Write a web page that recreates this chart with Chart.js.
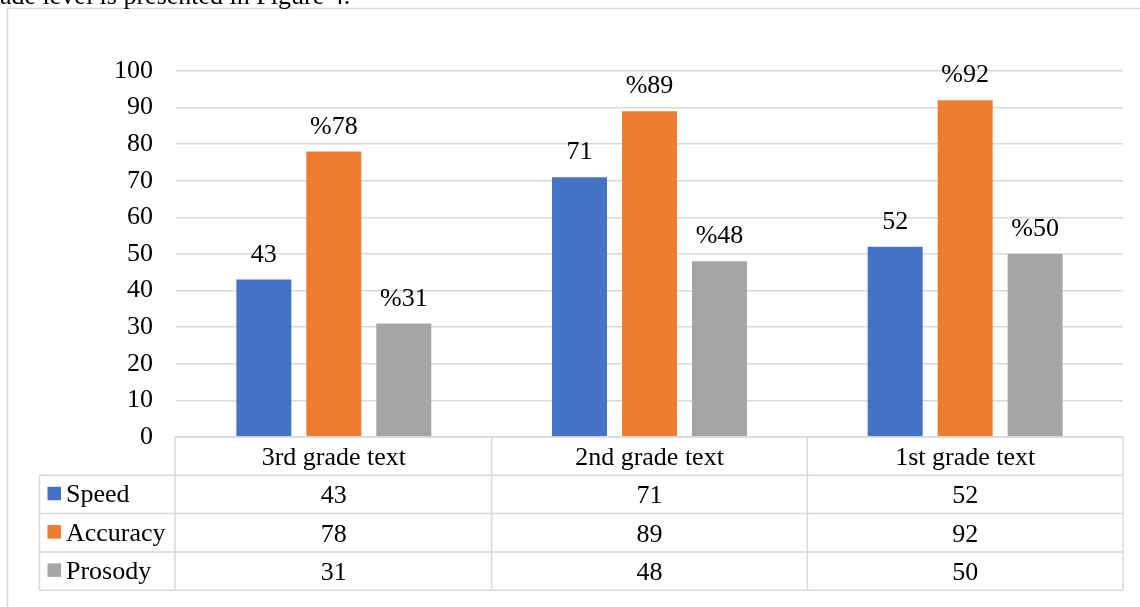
<!DOCTYPE html>
<html>
<head>
<meta charset="utf-8">
<script src="https://cdn.jsdelivr.net/npm/chart.js@4"></script>
<style>
html,body{margin:0;padding:0;background:#fff;overflow:hidden;}
#wrap{position:relative;width:1140px;height:607px;}
canvas{display:block;}
</style>
</head>
<body>
<div id="wrap"><canvas id="c" width="1140" height="607"></canvas></div>
<script>
const categories = ['3rd grade text', '2nd grade text', '1st grade text'];
const seriesNames = ['Speed', 'Accuracy', 'Prosody'];
const speed = [43, 71, 52];
const accuracy = [78, 89, 92];
const prosody = [31, 48, 50];
const labelPrefixes = ['', '%', '%'];
const yTicks = [0, 10, 20, 30, 40, 50, 60, 70, 80, 90, 100];
const captionText = 'ade level is presented in Figure 4.';

const colors = ['#4472C4', '#ED7D31', '#A5A5A5'];
const gridColor = '#D9D9D9';
const FONT = "'Liberation Serif', 'Times New Roman', serif";
const TS = 26;

function drawText(ctx, text, x, y, align) {
  ctx.font = TS + 'px ' + FONT;
  ctx.textAlign = align;
  ctx.textBaseline = 'alphabetic';
  ctx.fillText(text, x, y);
}

const tablePlugin = {
  id: 'tablePlugin',
  afterDraw(chart) {
    const ctx = chart.ctx;
    const xs = chart.scales.x;
    const ys = chart.scales.y;
    const area = chart.chartArea;
    ctx.save();
    ctx.fillStyle = '#000';

    // data labels
    chart.data.datasets.forEach((ds, di) => {
      const meta = chart.getDatasetMeta(di);
      meta.data.forEach((bar, i) => {
        drawText(ctx, labelPrefixes[di] + ds.data[i], bar.x, bar.y - 18, 'center');
      });
    });

    // table
    const colEdges = [];
    for (let i = 0; i <= categories.length; i++) {
      colEdges.push(i === 0 ? area.left - 1 : (i === categories.length ? area.right : (xs.getPixelForValue(i - 1) + xs.getPixelForValue(i)) / 2));
    }
    const top = ys.getPixelForValue(0);
    const rowH = 38.3;
    const rowYs = [];
    for (let r = 0; r <= seriesNames.length + 1; r++) rowYs.push(top + r * rowH);
    const leftX = 39.5;

    ctx.strokeStyle = gridColor;
    ctx.lineWidth = 1.5;
    ctx.beginPath();
    ctx.moveTo(colEdges[0], rowYs[0]); ctx.lineTo(colEdges[colEdges.length - 1], rowYs[0]);
    for (let r = 1; r < rowYs.length; r++) {
      ctx.moveTo(leftX, rowYs[r]); ctx.lineTo(colEdges[colEdges.length - 1], rowYs[r]);
    }
    colEdges.forEach(x => { ctx.moveTo(x, rowYs[0]); ctx.lineTo(x, rowYs[rowYs.length - 1]); });
    ctx.moveTo(leftX, rowYs[1]); ctx.lineTo(leftX, rowYs[rowYs.length - 1]);
    ctx.stroke();

    ctx.fillStyle = '#000';
    categories.forEach((c, i) => {
      drawText(ctx, c, xs.getPixelForValue(i), rowYs[0] + 28, 'center');
    });
    chart.data.datasets.forEach((ds, di) => {
      const ry = rowYs[di + 1];
      ctx.fillStyle = colors[di];
      ctx.fillRect(47.5, ry + 11.5, 13.5, 13.5);
      ctx.fillStyle = '#000';
      drawText(ctx, seriesNames[di], 66, ry + 27, 'left');
      ds.data.forEach((v, i) => {
        drawText(ctx, String(v), xs.getPixelForValue(i), ry + 28, 'center');
      });
    });

    // outer frame
    ctx.strokeStyle = gridColor;
    ctx.lineWidth = 1.5;
    ctx.beginPath();
    ctx.moveTo(7.5, 620); ctx.lineTo(7.5, 8.5); ctx.lineTo(1150, 8.5);
    ctx.stroke();

    // caption cut at top
    ctx.fillStyle = '#000';
    drawText(ctx, captionText, 0, 4, 'left');
    ctx.restore();
  }
};

new Chart(document.getElementById('c'), {
  type: 'bar',
  data: {
    labels: categories,
    datasets: [
      { label: seriesNames[0], data: speed, backgroundColor: colors[0] },
      { label: seriesNames[1], data: accuracy, backgroundColor: colors[1] },
      { label: seriesNames[2], data: prosody, backgroundColor: colors[2] }
    ]
  },
  options: {
    responsive: false,
    animation: false,
    layout: { padding: { top: 71, bottom: 170, left: 0, right: 17 } },
    plugins: { legend: { display: false }, tooltip: { enabled: false } },
    datasets: { bar: { categoryPercentage: 0.665, barPercentage: 0.786 } },
    scales: {
      x: { display: false },
      y: {
        min: 0, max: 100,
        afterBuildTicks(scale) { scale.ticks = yTicks.map(v => ({ value: v })); },
        afterFit(scale) { scale.width = 176; },
        ticks: { color: '#000', padding: 23, font: { family: FONT, size: TS } },
        grid: { color: gridColor, lineWidth: 1.5, drawTicks: false },
        border: { display: false }
      }
    }
  },
  plugins: [tablePlugin]
});
</script>
</body>
</html>
